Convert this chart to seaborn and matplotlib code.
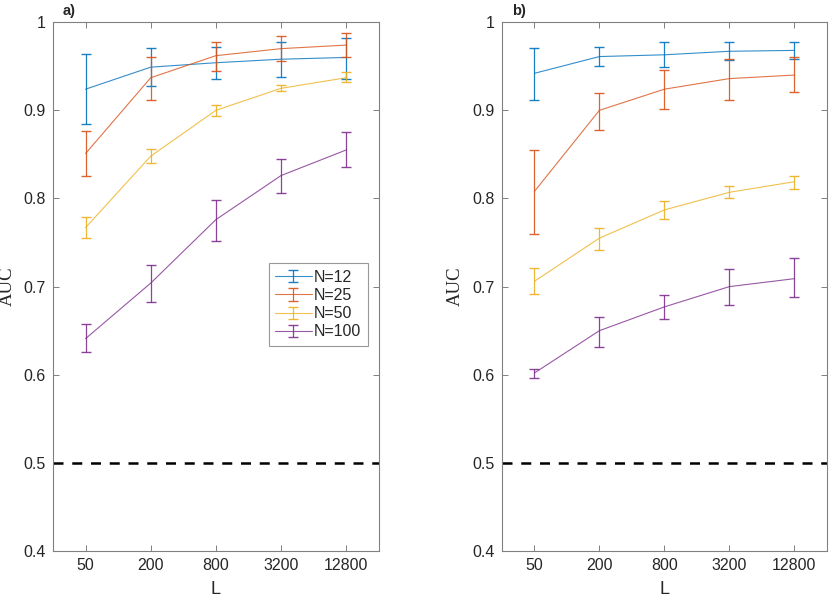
import numpy as np
import pandas as pd
import matplotlib
matplotlib.use("Agg")
import matplotlib.pyplot as plt
import seaborn as sns
from matplotlib.container import ErrorbarContainer
from matplotlib.legend_handler import HandlerTuple, HandlerErrorbar

# categories on the x axis
L_labels = ["50", "200", "800", "3200", "12800"]
N_labels = ["N=12", "N=25", "N=50", "N=100"]

# panel a) mean AUC, lower and upper error bar ends
a_mean = [[0.924, 0.949, 0.954, 0.958, 0.960],
          [0.851, 0.937, 0.962, 0.970, 0.974],
          [0.767, 0.848, 0.900, 0.925, 0.937],
          [0.641, 0.704, 0.776, 0.826, 0.855]]
a_lo = [[0.884, 0.928, 0.935, 0.938, 0.936],
        [0.825, 0.912, 0.945, 0.956, 0.960],
        [0.755, 0.840, 0.894, 0.922, 0.932],
        [0.626, 0.683, 0.752, 0.806, 0.836]]
a_hi = [[0.964, 0.971, 0.972, 0.978, 0.982],
        [0.877, 0.961, 0.978, 0.984, 0.988],
        [0.779, 0.856, 0.906, 0.929, 0.943],
        [0.658, 0.724, 0.798, 0.845, 0.875]]

# panel b)
b_mean = [[0.942, 0.961, 0.963, 0.967, 0.968],
          [0.808, 0.900, 0.924, 0.936, 0.940],
          [0.706, 0.755, 0.787, 0.807, 0.819],
          [0.602, 0.650, 0.677, 0.700, 0.709]]
b_lo = [[0.912, 0.950, 0.949, 0.957, 0.958],
        [0.760, 0.878, 0.902, 0.912, 0.921],
        [0.692, 0.742, 0.777, 0.800, 0.811],
        [0.596, 0.632, 0.663, 0.679, 0.688]]
b_hi = [[0.971, 0.972, 0.978, 0.977, 0.978],
        [0.855, 0.920, 0.946, 0.958, 0.960],
        [0.721, 0.767, 0.797, 0.814, 0.826],
        [0.607, 0.666, 0.690, 0.720, 0.732]]

chance = 0.5
colors = ["#0072BD", "#D95319", "#EDB120", "#7E2F8E"]

sns.set_style("ticks")
plt.rcParams["font.family"] = ["Liberation Sans", "DejaVu Sans"]

fig = plt.figure(figsize=(8.31, 6.03), dpi=100)
ax_a = fig.add_axes([0.0638, 0.0862, 0.392, 0.877])
ax_b = fig.add_axes([0.604, 0.0862, 0.391, 0.877])


def draw_panel(ax, mean, lo, hi, tag, legend):
    rows = []
    for i, n in enumerate(N_labels):
        for j in range(len(L_labels)):
            rows.append({"x": j, "AUC": mean[i][j], "N": n})
    df = pd.DataFrame(rows)
    sns.lineplot(data=df, x="x", y="AUC", hue="N", palette=colors,
                 linewidth=0.8, alpha=0.8, ax=ax, legend=False)
    handles = []
    for i, n in enumerate(N_labels):
        m = np.array(mean[i])
        err = [m - np.array(lo[i]), np.array(hi[i]) - m]
        eb = ax.errorbar(range(len(L_labels)), m, yerr=err, fmt="none",
                         ecolor=colors[i], elinewidth=0.9, capsize=3.5,
                         capthick=1.0, alpha=0.9)
        handles.append((ax.lines[i], eb))
    ax.axhline(chance, color="black", linestyle=(0, (4, 3.5)), linewidth=1.8)

    ax.set_xlim(-0.5, 4.5)
    ax.set_ylim(0.4, 1.0)
    ax.set_xticks(range(len(L_labels)))
    ax.set_xticklabels(L_labels)
    ax.set_yticks([0.4, 0.5, 0.6, 0.7, 0.8, 0.9, 1.0])
    ax.set_yticklabels(["0.4", "0.5", "0.6", "0.7", "0.8", "0.9", "1"])
    ax.tick_params(direction="in", top=True, right=True, length=4,
                   width=0.7, color="#808080", labelsize=11.5,
                   labelcolor="#262626", pad=5)
    for s in ax.spines.values():
        s.set_color("#808080")
        s.set_linewidth(0.8)
    ax.set_xlabel("L", fontsize=13, color="#262626", labelpad=6)
    ax.set_ylabel("AUC", fontsize=13.5, family="Liberation Serif",
                  color="#262626", labelpad=6)
    ax.text(0.03, 1.008, tag, transform=ax.transAxes, fontsize=10.5,
            fontweight="bold", va="bottom", ha="left")
    if legend:
        leg = ax.legend(handles, N_labels,
                        handler_map={tuple: HandlerTuple(ndivide=1),
                                     ErrorbarContainer: HandlerErrorbar(yerr_size=0.38)},
                        loc="lower left", bbox_to_anchor=(0.662, 0.388),
                        fontsize=11.5, frameon=True, fancybox=False,
                        edgecolor="#808080", handlelength=2.3,
                        borderaxespad=0, labelspacing=0.2,
                        handletextpad=0.15, borderpad=0.4)
        leg.get_frame().set_linewidth(0.8)


draw_panel(ax_a, a_mean, a_lo, a_hi, "a)", True)
draw_panel(ax_b, b_mean, b_lo, b_hi, "b)", False)

fig.savefig("out.png", dpi=100)
